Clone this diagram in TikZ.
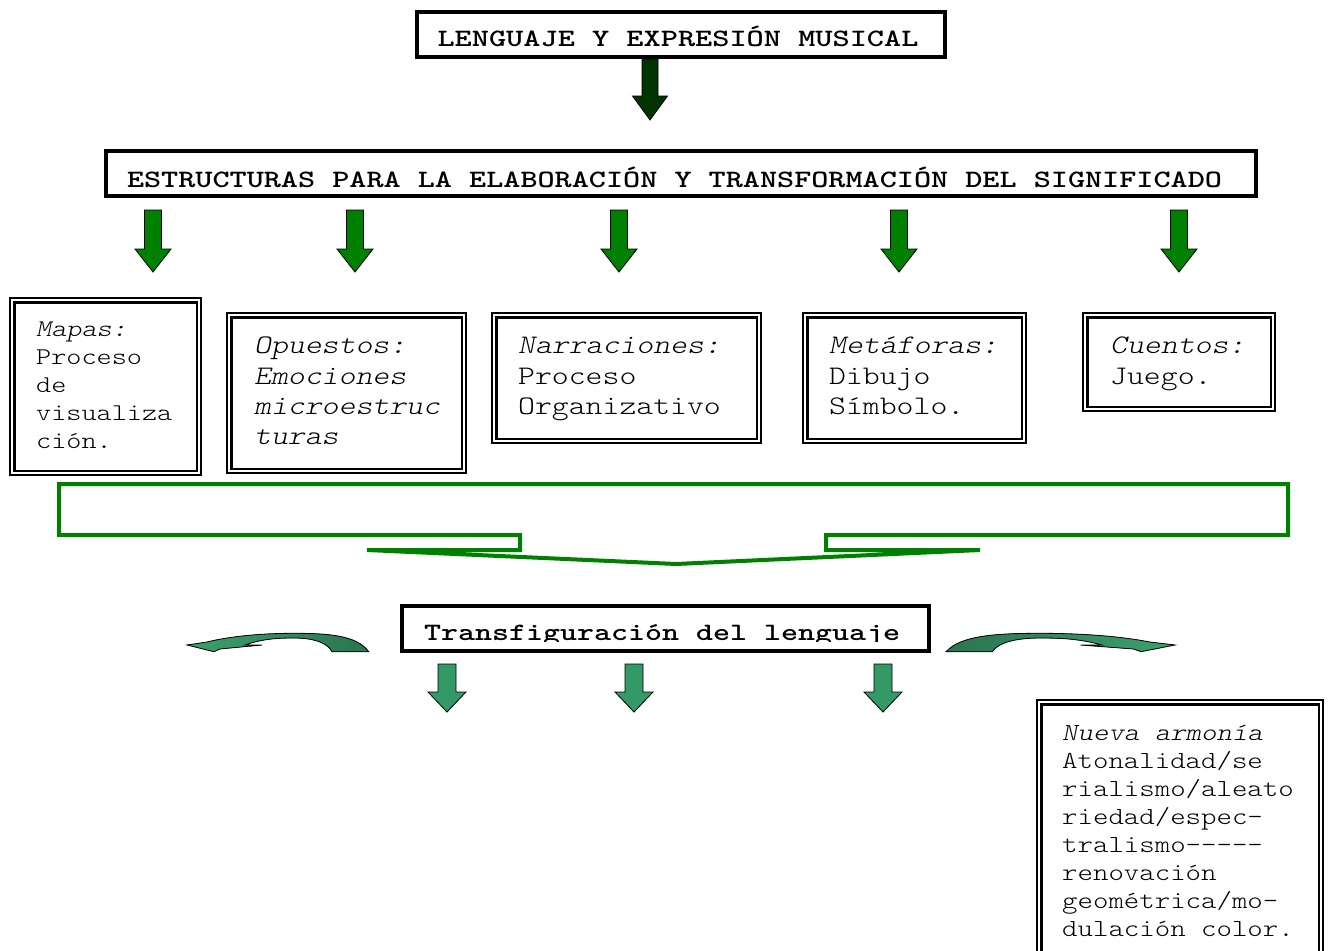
\documentclass[tikz,border=0pt]{standalone}
\usepackage{fontspec}
\setmainfont{Liberation Serif}
\newfontfamily\cour{lmmonolt10-regular}[Extension=.otf, ItalicFont=lmmonolt10-oblique, BoldFont=lmmonolt10-bold, FakeStretch=1.2]
\usepackage{graphicx}
\definecolor{topgreen}{HTML}{003300}
\definecolor{midgreen}{HTML}{008000}
\definecolor{seagreen}{HTML}{339966}
\definecolor{cglight}{HTML}{3DA06D}
\definecolor{cgdark}{HTML}{2B7450}
\newcommand\blockarrow[7]{%
  \filldraw[#7] ({#1-#5},#2) -- ({#1+#5},#2) -- ({#1+#5},#3) -- ({#1+#6},#3) -- (#1,#4) -- ({#1-#6},#3) -- ({#1-#5},#3) -- cycle;}
\newcommand\curvedpath{(181.7,6.7) .. controls (170,-10) and (140,-11.7) .. (106.7,-11.7) .. controls (70,-11.7) and (40,-8) .. (20,-3) -- (0,0) -- (27,6.7) -- (33,4) -- (75,0) -- (58,0) .. controls (75,-6) and (90,-7) .. (106.7,-7) .. controls (125,-7) and (140,-3) .. (145,6.7) -- cycle}
\begin{document}
\begin{tikzpicture}[x=1pt,y=-1pt,
  titlebox/.style={draw=black, line width=4pt, inner sep=0pt},
  titletext/.style={anchor=base, inner sep=0pt, font=\cour\bfseries\fontsize{25}{30}\selectfont},
  dbl/.style={draw=black, line width=2.25pt, double=white, double distance=2pt, inner sep=0pt},
  boxline/.style={anchor=base west, inner sep=0pt},
  txtA/.style={boxline, font=\cour\fontsize{24}{28}\selectfont},
  txtB/.style={boxline, font=\cour\fontsize{26.8}{31}\selectfont},
  txtC/.style={boxline, font=\cour\fontsize{24.5}{28}\selectfont},
  arrowtop/.style={fill=topgreen, draw=black, line width=0.8pt},
  arrowmid/.style={fill=midgreen, draw=black, line width=0.8pt},
  arrowsea/.style={fill=seagreen, draw=black, line width=0.8pt},
  bracket/.style={draw=midgreen, line width=4pt},
  carrow/.style={draw=black, line width=0.8pt}
]
\useasboundingbox (0,0) rectangle (1332,950);
\fill[white] (0,0) rectangle (1332,950);

% title boxes
\node[titlebox, minimum width=528pt, minimum height=45pt] (t1) at (681,34.5) {};
\node[titletext] (t1txt) at (678,47) {\resizebox{481pt}{\height}{LENGUAJE Y EXPRESIÓN MUSICAL}};

\node[titlebox, minimum width=1150pt, minimum height=45pt] (t2) at (681,173.5) {};
\node[titletext] (t2txt) at (674.5,187) {\resizebox{1095pt}{\height}{ESTRUCTURAS PARA LA ELABORACIÓN Y TRANSFORMACIÓN DEL SIGNIFICADO}};

\node[titlebox, minimum width=527pt, minimum height=45pt] (t3) at (665.5,628.5) {};
\begin{scope}
  \clip (404,608) rectangle (927,641);
  \node[titletext] (t3txt) at (662,640) {\resizebox{476pt}{\height}{Transfiguración del lenguaje}};
\end{scope}

% block arrows
\blockarrow{650}{59}{96}{120}{8}{17.5}{arrowtop}
\foreach \cx in {153,355,619,899,1179}{
  \blockarrow{\cx}{210}{249}{272}{8.5}{18}{arrowmid}
}
\foreach \cx in {447,634,883}{
  \blockarrow{\cx}{664}{692}{712}{9}{19}{arrowsea}
}

% double boxes
\node[dbl, minimum width=186.5pt, minimum height=172.5pt] (mapas) at (105.5,386.5) {};
\node[dbl, minimum width=234.5pt, minimum height=155.5pt] (opuestos) at (346.5,393) {};
\node[dbl, minimum width=264.5pt, minimum height=125.5pt] (narr) at (626.5,378) {};
\node[dbl, minimum width=218.5pt, minimum height=125.5pt] (meta) at (914.5,378) {};
\node[dbl, minimum width=187.5pt, minimum height=93.5pt] (cuentos) at (1179,362) {};
\node[dbl, minimum width=281.5pt, minimum height=284.5pt] (nueva) at (1180,844.5) {};

% box texts
\node[txtA] (m1) at (36,336) {\itshape Mapas:};
\node[txtA] (m2) at (36,364) {Proceso};
\node[txtA] (m3) at (36,392) {de};
\node[txtA] (m4) at (36,420) {visualiza};
\node[txtA] (m5) at (36,448) {ción.};

\node[txtB] (o1) at (254,353) {\itshape Opuestos:};
\node[txtB] (o2) at (254,384) {\itshape Emociones};
\node[txtB] (o3) at (254,414) {\itshape microestruc};
\node[txtB] (o4) at (254,444) {\itshape turas};

\node[txtB] (n1) at (518,353) {\itshape Narraciones:};
\node[txtB] (n2) at (518,384) {Proceso};
\node[txtB] (n3) at (518,414) {Organizativo};

\node[txtB] (me1) at (829,353) {\itshape Metáforas:};
\node[txtB] (me2) at (829,384) {Dibujo};
\node[txtB] (me3) at (829,414) {Símbolo.};

\node[txtB] (c1) at (1110,353) {\itshape Cuentos:};
\node[txtB] (c2) at (1110,384) {Juego.};

\node[txtC] (nu1) at (1062,740) {\itshape Nueva armonía};
\node[txtC] (nu2) at (1062,768) {Atonalidad/se};
\node[txtC] (nu3) at (1062,796) {rialismo/aleato};
\node[txtC] (nu4) at (1062,824) {riedad/espec-};
\node[txtC] (nu5) at (1062,852) {tralismo-{}-{}-{}-{}-};
\node[txtC] (nu6) at (1062,880) {renovación};
\node[txtC] (nu7) at (1062,908) {geométrica/mo-};
\node[txtC] (nu8) at (1062,936) {dulación color.};

% green down-arrow callout
\draw[bracket] (59,484) -- (1288,484) -- (1288,535) -- (826,535) -- (826,550) -- (980,550) -- (676,564) -- (367,550) -- (520,550) -- (520,535) -- (59,535) -- cycle;

% curved arrows
\begin{scope}[shift={(187,645)}]
  \filldraw[carrow, left color=cglight, right color=cgdark] \curvedpath;
\end{scope}
\begin{scope}[shift={(1175,645)}, xscale=-1.26]
  \filldraw[carrow, left color=cgdark, right color=cglight] \curvedpath;
\end{scope}
\end{tikzpicture}
\end{document}
